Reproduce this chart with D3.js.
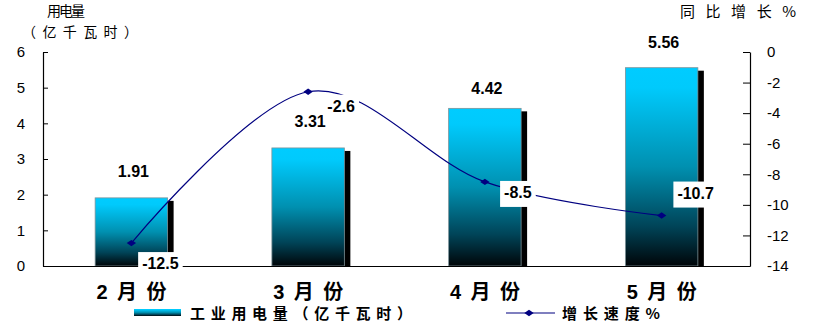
<!DOCTYPE html>
<html lang="zh">
<head>
<meta charset="UTF-8">
<title>工业用电量</title>
<script src="https://d3js.org/d3.v7.min.js"></script>
<style>
  body { margin: 0; background: #fff; }
  svg { display: block; }
  text { font-family: "Liberation Sans", Arial, "Noto Sans CJK SC", sans-serif; }
</style>
</head>
<body>
<script>
  // chart data
  const months = ["2月份", "3月份", "4月份", "5月份"];
  const usage = [1.91, 3.31, 4.42, 5.56];          // 亿千瓦时
  const growth = [-12.5, -2.6, -8.5, -10.7];       // 同比增长 %
  const leftTicks = [0, 1, 2, 3, 4, 5, 6];
  const rightTicks = [0, -2, -4, -6, -8, -10, -12, -14];

  // manual label nudges (px), like the hand-placed labels in the source
  const barLabelLift = [21, 21, 14, 20];
  const lineLabelShift = [[29, 20], [33, 14], [33, 10], [34, -23]];

  const W = 814, H = 331;
  const svg = d3.select("body").append("svg").attr("width", W).attr("height", H);

  const x = d3.scaleBand().domain(months).range([43, 750])
      .paddingInner(0.59).paddingOuter(0.295);
  const yL = d3.scaleLinear().domain([0, 6]).range([266, 52]);
  const yR = d3.scaleLinear().domain([-14, 0]).range([266, 52]);

  // gradients
  const defs = svg.append("defs");
  const grad = defs.append("linearGradient").attr("id", "barGrad")
      .attr("x1", 0).attr("y1", 0).attr("x2", 0).attr("y2", 1);
  [[0, "#00CCFF"], [0.1, "#00CAFC"], [0.5, "#0090B0"], [0.8, "#004458"], [1, "#000508"]]
    .forEach(s => grad.append("stop").attr("offset", s[0]).attr("stop-color", s[1]));

  // bars: black offset shadow then gradient bar
  const bars = svg.append("g");
  bars.selectAll(".shadow").data(usage).join("rect")
      .attr("class", "shadow")
      .attr("x", (d, i) => x(months[i]) + 6)
      .attr("y", d => yL(d) + 3)
      .attr("width", x.bandwidth())
      .attr("height", d => yL(0) - yL(d) - 3)
      .attr("fill", "#000");
  bars.selectAll(".bar").data(usage).join("rect")
      .attr("class", "bar")
      .attr("x", (d, i) => x(months[i]))
      .attr("y", d => yL(d))
      .attr("width", x.bandwidth())
      .attr("height", d => yL(0) - yL(d))
      .attr("fill", "url(#barGrad)")
      .attr("stroke", "#7d9298").attr("stroke-width", 0.8);

  // bar value labels
  svg.append("g").selectAll("text").data(usage).join("text")
      .attr("x", (d, i) => x(months[i]) + x.bandwidth() / 2 + 2)
      .attr("y", (d, i) => yL(d) - barLabelLift[i])
      .attr("text-anchor", "middle")
      .attr("font-size", 16).attr("font-weight", "bold")
      .text(d => d.toFixed(2));

  // axes
  const axL = svg.append("g").attr("transform", "translate(43,0)")
      .call(d3.axisLeft(yL).tickValues(leftTicks).tickSize(-5).tickSizeOuter(0).tickPadding(18)
        .tickFormat(d => d));
  const axR = svg.append("g").attr("transform", "translate(750,0)")
      .call(d3.axisRight(yR).tickValues(rightTicks).tickSize(-7).tickSizeOuter(0).tickPadding(17)
        .tickFormat(d => d));
  const axB = svg.append("g").attr("transform", "translate(0,266)")
      .call(d3.axisBottom(x).tickSize(0).tickSizeOuter(0).tickPadding(19));
  [axL, axR, axB].forEach(a => {
    a.select(".domain").attr("stroke", "#000").attr("stroke-width", 1.2);
    a.selectAll(".tick line").attr("stroke", "#000");
    a.selectAll("text").attr("fill", "#000")
      .style("font-family", '"Liberation Sans", Arial, sans-serif');
  });
  axL.selectAll("text").attr("font-size", 15);
  axR.selectAll("text").attr("font-size", 15).attr("text-anchor", "start");
  axB.selectAll("text").attr("font-size", 20).attr("font-weight", "bold")
     .attr("textLength", 70).attr("lengthAdjust", "spacing")
     .style("font-family", '"Liberation Sans", Arial, "Noto Sans CJK SC", sans-serif');

  // growth line
  const pts = growth.map((d, i) => [x(months[i]) + x.bandwidth() / 2, yR(d)]);
  const line = d3.line().curve(d3.curveCardinal.tension(0));
  svg.append("path").attr("d", line(pts))
      .attr("fill", "none").attr("stroke", "#000080").attr("stroke-width", 1.2);
  const diamond = d3.symbol(d3.symbolDiamond2, 36);
  svg.append("g").selectAll("path").data(pts).join("path")
      .attr("d", diamond)
      .attr("transform", p => `translate(${p[0]},${p[1]}) scale(1.25,0.85)`)
      .attr("fill", "#000080");

  // growth labels with white boxes
  const gl = svg.append("g");
  growth.forEach((d, i) => {
    const cx = pts[i][0] + lineLabelShift[i][0];
    const cy = pts[i][1] + lineLabelShift[i][1];
    const g = gl.append("g");
    const r = g.append("rect").attr("fill", "#fff");
    const t = g.append("text").attr("x", cx).attr("y", cy + 6)
        .attr("text-anchor", "middle").attr("font-size", 16).attr("font-weight", "bold")
        .text(d);
    const b = t.node().getBBox();
    r.attr("x", b.x - 4).attr("y", b.y - 3).attr("width", b.width + 8).attr("height", b.height + 9);
  });

  // axis titles
  const cjk = '"Noto Sans CJK SC", sans-serif';
  svg.append("text").attr("x", 66).attr("y", 16).attr("text-anchor", "middle")
      .attr("font-size", 14).attr("textLength", 38).style("font-family", cjk).text("用电量");
  svg.append("text").attr("x", 80).attr("y", 37).attr("text-anchor", "middle")
      .attr("font-size", 14).attr("textLength", 116).style("font-family", cjk).text("（亿千瓦时）");
  svg.append("text").attr("x", 680).attr("y", 17)
      .attr("font-size", 15).attr("textLength", 116).style("font-family", cjk).text("同比增长%");

  // legend
  const lg = svg.append("g");
  lg.append("rect").attr("x", 134).attr("y", 309).attr("width", 47).attr("height", 7)
      .attr("fill", "url(#barGrad)");
  lg.append("text").attr("x", 190).attr("y", 319).attr("font-size", 15).attr("font-weight", "bold")
      .attr("textLength", 222).style("font-family", cjk).text("工业用电量（亿千瓦时）");
  lg.append("line").attr("x1", 506).attr("x2", 555).attr("y1", 313).attr("y2", 313)
      .attr("stroke", "#000080").attr("stroke-width", 1.2);
  lg.append("path").attr("d", diamond)
      .attr("transform", "translate(529,313) scale(1.25,0.85)").attr("fill", "#000080");
  lg.append("text").attr("x", 562).attr("y", 319).attr("font-size", 15).attr("font-weight", "bold")
      .attr("textLength", 98).style("font-family", cjk).text("增长速度%");
</script>
</body>
</html>
